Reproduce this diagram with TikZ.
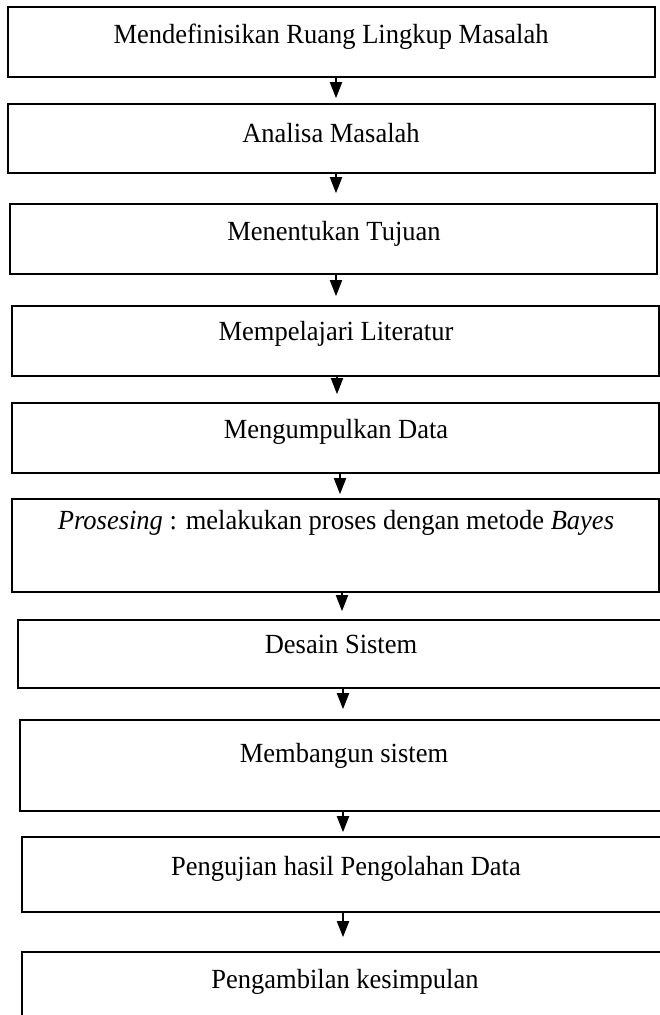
\documentclass[tikz,border=0pt]{standalone}
\usepackage{fontspec}
\setmainfont{Liberation Serif}
\usetikzlibrary{arrows.meta}
\newcommand{\tallt}[1]{\scalebox{1}[1.045]{#1}}
\begin{document}
\begin{tikzpicture}[x=1pt,y=-1pt,
  stepbox/.style={draw=black, line width=1.6pt, fill=none, inner sep=0pt},
  lbl/.style={anchor=base, inner sep=0pt, font=\fontsize{26.5}{30}\selectfont},
  arr/.style={line width=1.8pt, -{Triangle[length=16pt,width=12pt]}}]
\clip (0,0) rectangle (660,1015);
\fill[white] (0,0) rectangle (660,1015);
% boxes
\node[stepbox, minimum width=647pt, minimum height=70pt] (b1) at (331.5,42) {};
\node[stepbox, minimum width=647pt, minimum height=69pt] (b2) at (331.5,138.5) {};
\node[stepbox, minimum width=647pt, minimum height=70pt] (b3) at (333.5,239) {};
\node[stepbox, minimum width=647pt, minimum height=70pt] (b4) at (335.5,341) {};
\node[stepbox, minimum width=647pt, minimum height=70pt] (b5) at (335.5,438) {};
\node[stepbox, minimum width=647pt, minimum height=93pt] (b6) at (335.5,545.5) {};
\node[stepbox, minimum width=650pt, minimum height=68pt] (b7) at (343,654) {};
\node[stepbox, minimum width=648pt, minimum height=91pt] (b8) at (344,765.5) {};
\node[stepbox, minimum width=646pt, minimum height=75pt] (b9) at (345,874.5) {};
\node[stepbox, minimum width=646pt, minimum height=78pt] (b10) at (345,991) {};
% texts
\node[lbl] (t1) at (331,43.5) {\tallt{Mendefinisikan Ruang Lingkup Masalah}};
\node[lbl] (t2) at (331,142.5) {\tallt{Analisa Masalah}};
\node[lbl] (t3) at (334,240.5) {\tallt{Menentukan Tujuan}};
\node[lbl] (t4) at (336,340.5) {\tallt{Mempelajari Literatur}};
\node[lbl] (t5) at (336,438.5) {\tallt{Mengumpulkan Data}};
\node[lbl] (t6) at (336,529.5) {\tallt{\textit{Prosesing} : melakukan proses dengan metode \textit{Bayes}}};
\node[lbl] (t7) at (341,653.5) {\tallt{Desain Sistem}};
\node[lbl] (t8) at (344,762.5) {\tallt{Membangun sistem}};
\node[lbl] (t9) at (346,875.5) {\tallt{Pengujian hasil Pengolahan Data}};
\node[lbl] (t10) at (345,988.5) {\tallt{Pengambilan kesimpulan}};
% arrow x positions
\coordinate (x1) at (336,0);
\coordinate (x2) at (336,0);
\coordinate (x3) at (336,0);
\coordinate (x4) at (337,0);
\coordinate (x5) at (340,0);
\coordinate (x6) at (342,0);
\coordinate (x7) at (343,0);
\coordinate (x8) at (343,0);
\coordinate (x9) at (343,0);
\draw[arr, shorten >=5pt] (b1.south -| x1) -- (b2.north -| x1);
\draw[arr, shorten >=10pt] (b2.south -| x2) -- (b3.north -| x2);
\draw[arr, shorten >=9pt] (b3.south -| x3) -- (b4.north -| x3);
\draw[arr, shorten >=8pt] (b4.south -| x4) -- (b5.north -| x4);
\draw[arr, shorten >=4pt] (b5.south -| x5) -- (b6.north -| x5);
\draw[arr, shorten >=8pt] (b6.south -| x6) -- (b7.north -| x6);
\draw[arr, shorten >=10pt] (b7.south -| x7) -- (b8.north -| x7);
\draw[arr, shorten >=4pt] (b8.south -| x8) -- (b9.north -| x8);
\draw[arr, shorten >=14pt] (b9.south -| x9) -- (b10.north -| x9);
\end{tikzpicture}
\end{document}
